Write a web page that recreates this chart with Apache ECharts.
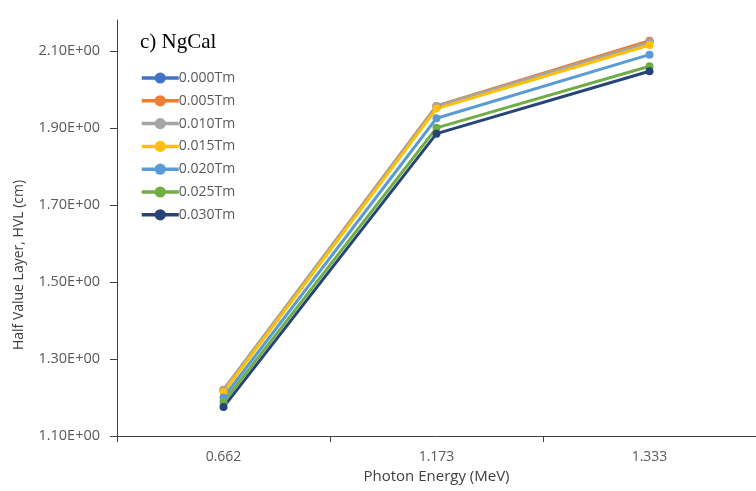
<!DOCTYPE html>
<html>
<head>
<meta charset="utf-8">
<script src="https://cdn.jsdelivr.net/npm/echarts@6/dist/echarts.min.js"></script>
<style>html,body{margin:0;padding:0;background:#fff}#c{width:756px;height:491px}</style>
</head>
<body>
<div id="c"></div>
<script>
const categories = ['0.662', '1.173', '1.333'];
const seriesNames = ['0.000Tm', '0.005Tm', '0.010Tm', '0.015Tm', '0.020Tm', '0.025Tm', '0.030Tm'];
const s000 = [1.219, 1.956, 2.124];
const s005 = [1.220, 1.957, 2.126];
const s010 = [1.219, 1.956, 2.122];
const s015 = [1.214, 1.950, 2.115];
const s020 = [1.200, 1.925, 2.090];
const s025 = [1.188, 1.900, 2.060];
const s030 = [1.175, 1.885, 2.047];
const yTicks = [1.1, 1.3, 1.5, 1.7, 1.9, 2.1];
const colors = ['#4472C4', '#ED7D31', '#A5A5A5', '#FFC000', '#5B9BD5', '#70AD47', '#264478'];
const allData = [s000, s005, s010, s015, s020, s025, s030];

const chart = echarts.init(document.getElementById('c'));
const font = "'Open Sans', 'Liberation Sans', sans-serif";
chart.setOption({
  animation: false,
  title: {
    text: 'c) NgCal', left: 140, top: 32, padding: 0,
    textStyle: { fontFamily: "'Liberation Serif', 'DejaVu Serif', serif", fontSize: 21, fontWeight: 'normal', color: '#000' }
  },
  legend: {
    orient: 'vertical', left: 140, top: 71, padding: 0,
    itemWidth: 37, itemHeight: 14, itemGap: 8.8,
    data: seriesNames,
    lineStyle: { width: 3.5 },
    textStyle: { fontFamily: font, fontSize: 14, color: '#595959', padding: [0, 0, 0, -5] }
  },
  grid: { left: 117, top: 20, bottom: 55, width: 648, containLabel: false },
  xAxis: {
    type: 'category', data: categories, boundaryGap: true,
    name: 'Photon Energy (MeV)', nameLocation: 'middle', nameGap: 33,
    nameTextStyle: { fontFamily: font, fontSize: 15, color: '#404040' },
    axisLine: { lineStyle: { color: '#404040', width: 1 } },
    axisTick: { show: true, length: 6, lineStyle: { color: '#404040' } },
    axisLabel: { fontFamily: font, fontSize: 14, color: '#595959', margin: 14 },
    splitLine: { show: false }
  },
  yAxis: {
    type: 'value', min: 1.1, max: 2.18, interval: 0.2,
    name: 'Half Value Layer, HVL (cm)', nameLocation: 'middle', nameGap: 91, nameRotate: 90,
    nameTextStyle: { fontFamily: font, fontSize: 14, color: '#404040', padding: [0, 74, 0, 0] },
    axisLine: { show: true, lineStyle: { color: '#404040', width: 1 } },
    axisTick: { show: true, length: 7, lineStyle: { color: '#404040' }, customValues: yTicks },
    axisLabel: { fontFamily: font, fontSize: 14.5, color: '#595959', margin: 17, customValues: yTicks,
      formatter: v => v.toFixed(2) + 'E+00' },
    splitLine: { show: false }
  },
  series: seriesNames.map((n, i) => ({
    name: n, type: 'line', data: allData[i],
    symbol: 'circle', symbolSize: 8,
    lineStyle: { width: 3, color: colors[i] },
    itemStyle: { color: colors[i] }
  }))
});
</script>
</body>
</html>
